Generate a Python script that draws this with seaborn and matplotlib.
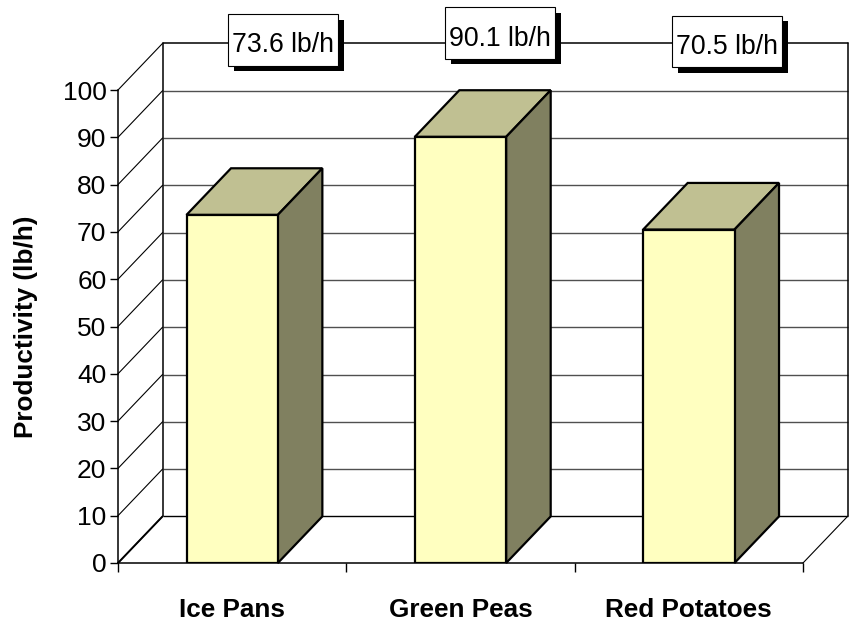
import matplotlib
matplotlib.use("Agg")
import matplotlib.pyplot as plt
from matplotlib.patches import Polygon, Rectangle
import seaborn as sns
import pandas as pd

# Data
categories = ["Ice Pans", "Green Peas", "Red Potatoes"]
productivity = [73.6, 90.1, 70.5]
value_labels = ["73.6 lb/h", "90.1 lb/h", "70.5 lb/h"]
y_ticks = [0, 10, 20, 30, 40, 50, 60, 70, 80, 90, 100]

sns.set_theme(style="white")
plt.rcParams["font.family"] = ["Liberation Sans", "DejaVu Sans"]

W, H = 855, 625
fig = plt.figure(figsize=(W / 100, H / 100), dpi=100)
fig.patch.set_facecolor("white")

# front plane of the 3D box, in pixels
x_left, x_right, y_bot, y_top = 118, 803, 563, 90
ax = fig.add_axes([x_left / W, 1 - y_bot / H, (x_right - x_left) / W, (y_bot - y_top) / H])
ax.set_facecolor("none")

df = pd.DataFrame({"Category": categories, "Productivity": productivity})

FRONT = "#FFFFC0"
TOP = "#C0C092"
SIDE = "#808060"
EDGE = "black"

sns.barplot(data=df, x="Category", y="Productivity", color=FRONT, saturation=1,
            width=0.4, edgecolor=EDGE, linewidth=1.6, ax=ax, zorder=5)

ax.set_xlim(-0.5, 2.5)
ax.set_ylim(0, 100)

# depth offset of the 3D projection (category units, value units)
dx, dy = 0.195, 9.85

# back wall and left wall
grid_col = "#505050"
for v in y_ticks:
    # back wall gridlines
    if v < 100:
        col = "black" if v == 0 else grid_col
        ax.plot([-0.5 + dx, 2.5 + dx], [v + dy, v + dy], color=col, lw=1.0,
                clip_on=False, zorder=1, solid_capstyle="butt")
    # left wall diagonals
    ax.plot([-0.5, -0.5 + dx], [v, v + dy], color="black", lw=0.8,
            clip_on=False, zorder=1)

ax.plot([-0.5 + dx, 2.5 + dx], [100 + dy, 100 + dy], color="black", lw=1.1, clip_on=False, zorder=1)
ax.plot([-0.5 + dx, -0.5 + dx], [dy, 100 + dy], color="black", lw=1.1, clip_on=False, zorder=1)
ax.plot([2.5 + dx, 2.5 + dx], [dy, 100 + dy], color="black", lw=1.1, clip_on=False, zorder=1)
# floor right edge and left floor diagonal
ax.plot([2.5, 2.5 + dx], [0, dy], color="black", lw=0.8, clip_on=False, zorder=1)
ax.plot([-0.5, -0.5 + dx], [0, dy], color="black", lw=1.4, clip_on=False, zorder=1)

# top and side faces of each column
for p in ax.patches[:]:
    x0 = p.get_x()
    w = p.get_width()
    h = p.get_height()
    top = Polygon([(x0, h), (x0 + w, h), (x0 + w + dx, h + dy), (x0 + dx, h + dy)],
                  closed=True, facecolor=TOP, edgecolor=EDGE, lw=1.6, zorder=4,
                  clip_on=False, joinstyle="miter")
    side = Polygon([(x0 + w, 0), (x0 + w, h), (x0 + w + dx, h + dy), (x0 + w + dx, dy)],
                   closed=True, facecolor=SIDE, edgecolor=EDGE, lw=1.6, zorder=4,
                   clip_on=False, joinstyle="miter")
    ax.add_patch(top)
    ax.add_patch(side)

# axes styling
for s in ["top", "right"]:
    ax.spines[s].set_visible(False)
for s in ["left", "bottom"]:
    ax.spines[s].set_visible(True)
    ax.spines[s].set_color("black")
    ax.spines[s].set_linewidth(1.1)
    ax.spines[s].set_zorder(6)

ax.set_yticks(y_ticks)
ax.set_yticklabels([str(v) for v in y_ticks], fontsize=19, color="black")
ax.tick_params(axis="y", which="major", direction="out", length=5.8, width=1.0,
               color="black", pad=2.5, left=True)

ax.set_xticks(range(len(categories)))
ax.set_xticklabels(categories, fontsize=18.8, fontweight="bold", color="black")
ax.tick_params(axis="x", which="major", length=0, pad=25.5, bottom=True)
ax.set_xticks([-0.5, 0.5, 1.5, 2.5], minor=True)
ax.tick_params(axis="x", which="minor", direction="out", length=6.3, width=1.0,
               color="black", bottom=True)

ax.set_xlabel("")
ax.set_ylabel("Productivity (lb/h)", fontsize=18.8, fontweight="bold", color="black", va="center")
ax.yaxis.set_label_coords((26 - x_left) / (x_right - x_left), 0.5)
ax.grid(False)

# value callouts above the chart
box_w, box_h, shadow = 110, 51.5, 5.5
box_centers = [(283.3, 40.0), (500.3, 33.2), (727.0, 41.7)]
for label, (cx, cy) in zip(value_labels, box_centers):
    left = (cx - box_w / 2) / W
    bottom = 1 - (cy + box_h / 2) / H
    fig.patches.append(Rectangle((left + shadow / W, bottom - shadow / H), box_w / W, box_h / H,
                                 transform=fig.transFigure, facecolor="black",
                                 edgecolor="none", zorder=10))
    fig.patches.append(Rectangle((left, bottom), box_w / W, box_h / H,
                                 transform=fig.transFigure, facecolor="white",
                                 edgecolor="black", lw=0.8, zorder=11))
    fig.text(cx / W, 1 - (cy + 12.5) / H, label, ha="center", va="baseline",
             fontsize=19.2, color="black", zorder=12)

fig.savefig("out.png", dpi=100, facecolor="white")
